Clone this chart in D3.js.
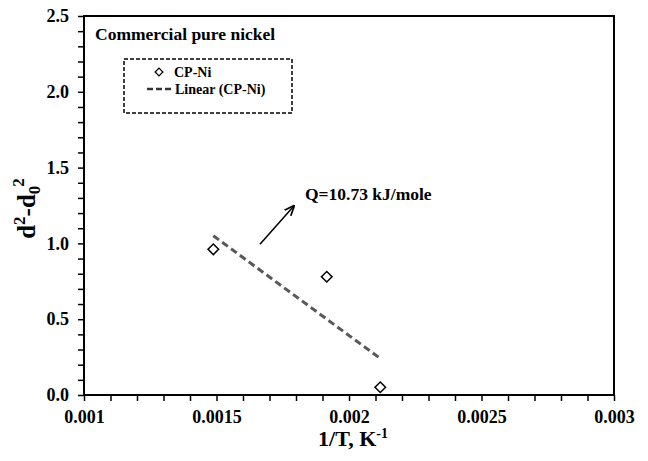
<!DOCTYPE html>
<html>
<head>
<meta charset="utf-8">
<script src="https://cdn.jsdelivr.net/npm/d3@7"></script>
<style>
  html, body { margin: 0; padding: 0; background: #fff; }
  svg text { font-family: "Times New Roman", "Liberation Serif", serif; font-weight: bold; fill: #000; }
</style>
</head>
<body>
<div id="chart"></div>
<script>
// data
var invT = [0.001488, 0.001916, 0.002118];      // 1/T, K^-1
var dSq = [0.961, 0.780, 0.051];                // d^2 - d0^2
var seriesName = "CP-Ni";
var fitName = "Linear (CP-Ni)";
var xTickLabels = [0.001, 0.0015, 0.002, 0.0025, 0.003];
var yTickLabels = [0.0, 0.5, 1.0, 1.5, 2.0, 2.5];
var panelTitle = "Commercial pure nickel";
var annotText = "Q=10.73 kJ/mole";

function drawChart() {
    let margin = { top: 16, right: 34, bottom: 66, left: 84 };
    let W = 648, H = 461;
    let width = W - margin.left - margin.right;
    let height = H - margin.top - margin.bottom;

    var svg = d3.select("#chart")
        .append("svg")
        .attr("width", W)
        .attr("height", H)
    .append("g")
        .attr("transform", "translate(" + margin.left + "," + margin.top + ")");

    let xScale = d3.scaleLinear().domain([0.001, 0.003]).range([0, width]);
    let yScale = d3.scaleLinear().domain([0, 2.5]).range([height, 0]);

    // minor + major ticks, all same length, outside
    let xMinor = d3.range(10, 31).map(d => d / 10000);
    let yMinor = d3.range(0, 26).map(d => d / 10);

    let xAxis = svg.append("g")
        .attr("transform", "translate(0," + height + ")")
        .call(d3.axisBottom(xScale)
            .tickValues(xMinor)
            .tickSize(6)
            .tickPadding(9)
            .tickFormat(function (d) {
                let hit = xTickLabels.find(v => Math.abs(v - d) < 1e-9);
                return hit === undefined ? "" : String(hit);
            }));
    let yAxis = svg.append("g")
        .call(d3.axisLeft(yScale)
            .tickValues(yMinor)
            .tickSize(6)
            .tickPadding(9)
            .tickFormat(function (d) {
                let hit = yTickLabels.find(v => Math.abs(v - d) < 1e-9);
                return hit === undefined ? "" : hit.toFixed(1);
            }));

    [xAxis, yAxis].forEach(function (a) {
        a.select(".domain").remove();
        a.selectAll(".tick line").attr("stroke", "#000").attr("stroke-width", 1.5);
        a.selectAll(".tick text").style("font-size", "18px").attr("fill", "#000");
    });

    // plot frame
    svg.append("rect")
        .attr("x", 0).attr("y", 0)
        .attr("width", width).attr("height", height)
        .attr("fill", "none")
        .attr("stroke", "#000")
        .attr("stroke-width", 2);

    // least squares trend line over the data span
    let mx = d3.mean(invT), my = d3.mean(dSq);
    let sxy = d3.sum(invT, (x, i) => (x - mx) * (dSq[i] - my));
    let sxx = d3.sum(invT, x => (x - mx) * (x - mx));
    let slope = sxy / sxx, icpt = my - slope * mx;
    let xr = d3.extent(invT);
    let fit = xr.map(x => [x, icpt + slope * x]);

    svg.append("path")
        .datum(fit)
        .attr("d", d3.line().x(d => xScale(d[0])).y(d => yScale(d[1])))
        .attr("stroke", "#595959")
        .attr("stroke-width", 3)
        .attr("stroke-dasharray", "7,4")
        .attr("fill", "none");

    // diamonds
    let diamond = d3.symbol().type(d3.symbolSquare).size(56);
    svg.selectAll("myDots")
        .data(invT)
        .enter()
        .append("path")
        .attr("d", diamond)
        .attr("transform", (d, i) => "translate(" + xScale(d) + "," + yScale(dSq[i]) + ") rotate(45)")
        .attr("fill", "#fff")
        .attr("stroke", "#000")
        .attr("stroke-width", 1.5);

    // annotation arrow and text (in data units)
    let arrowFrom = [0.001664, 0.994], arrowTo = [0.001792, 1.247];
    svg.append("defs").append("marker")
        .attr("id", "arrowhead")
        .attr("viewBox", "0 0 10 10")
        .attr("refX", 9).attr("refY", 5)
        .attr("markerWidth", 7).attr("markerHeight", 7)
        .attr("orient", "auto")
        .append("path")
        .attr("d", "M0,1 L10,5 L0,9")
        .attr("fill", "none")
        .attr("stroke", "#000")
        .attr("stroke-width", 1.6);
    svg.append("line")
        .attr("x1", xScale(arrowFrom[0])).attr("y1", yScale(arrowFrom[1]))
        .attr("x2", xScale(arrowTo[0])).attr("y2", yScale(arrowTo[1]))
        .attr("stroke", "#000")
        .attr("stroke-width", 1.5)
        .attr("marker-end", "url(#arrowhead)");
    svg.append("text")
        .attr("x", xScale(0.001834))
        .attr("y", yScale(1.286))
        .style("font-size", "17.5px")
        .text(annotText);

    // panel title
    svg.append("text")
        .attr("x", 11).attr("y", 24)
        .style("font-size", "17.5px")
        .text(panelTitle);

    // legend
    let lg = svg.append("g").attr("transform", "translate(40,43)");
    lg.append("rect")
        .attr("x", 0).attr("y", 0)
        .attr("width", 168).attr("height", 54)
        .attr("fill", "none")
        .attr("stroke", "#000")
        .attr("stroke-width", 1.5)
        .attr("stroke-dasharray", "4,2");
    lg.append("path")
        .attr("d", d3.symbol().type(d3.symbolSquare).size(30))
        .attr("transform", "translate(35,13) rotate(45)")
        .attr("fill", "#fff")
        .attr("stroke", "#000")
        .attr("stroke-width", 1.3);
    lg.append("text").attr("x", 50).attr("y", 18).style("font-size", "14px").text(seriesName);
    lg.append("line")
        .attr("x1", 23).attr("x2", 48)
        .attr("y1", 30).attr("y2", 30)
        .attr("stroke", "#333")
        .attr("stroke-width", 2.5)
        .attr("stroke-dasharray", "6,3");
    lg.append("text").attr("x", 51).attr("y", 35).style("font-size", "14px").text(fitName);

    // x axis title
    let xt = svg.append("text")
        .attr("x", width / 2 + 4)
        .attr("y", height + 51)
        .attr("text-anchor", "middle")
        .style("font-size", "22px");
    xt.append("tspan").text("1/T, K");
    xt.append("tspan").attr("dy", -8).style("font-size", "14px").text("-1");

    // y axis title
    let yt = svg.append("text")
        .attr("transform", "translate(" + (-49) + "," + (height / 2 + 3) + ") rotate(-90)")
        .attr("text-anchor", "middle")
        .style("font-size", "25px");
    yt.append("tspan").text("d");
    yt.append("tspan").attr("dy", -10).style("font-size", "17px").text("2");
    yt.append("tspan").attr("dy", 10).text("-d");
    yt.append("tspan").attr("dy", 5).style("font-size", "17px").text("0");
    yt.append("tspan").attr("dy", -16).attr("dx", -1).style("font-size", "17px").text("2");
}

drawChart();
</script>
</body>
</html>
